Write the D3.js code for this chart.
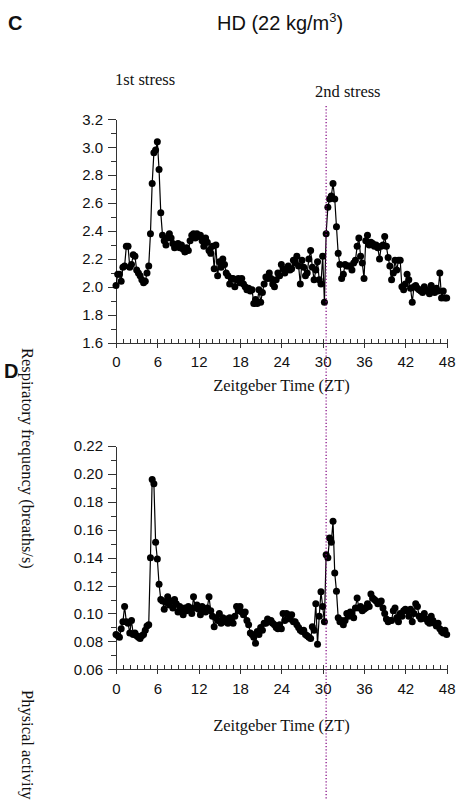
<!DOCTYPE html>
<html>
<head>
<meta charset="utf-8">
<script src="https://cdn.jsdelivr.net/npm/d3@7"></script>
<style>
  body { margin: 0; background: #fff; }
  .axis path, .axis line { stroke: #333; stroke-width: 1; shape-rendering: crispEdges; }
  .axis text { font-family: "Liberation Sans", Arial, sans-serif; font-size: 15px; fill: #111; }
  .serif { font-family: "Liberation Serif", "Times New Roman", serif; fill: #111; }
  .sans { font-family: "Liberation Sans", Arial, sans-serif; fill: #111; }
</style>
</head>
<body>
<svg id="chart" width="462" height="808"></svg>
<script>
// samples every 15 min, ZT 0 .. 48
var respiration = [
  2.01, 2.09, 2.09, 2.04,  2.14, 2.15, 2.29, 2.29,  2.14, 2.16, 2.23, 2.22,  2.12, 2.10, 2.08, 2.05,
  2.03, 2.04, 2.10, 2.15,  2.38, 2.74, 2.96, 2.98,  3.04, 2.84, 2.53, 2.37,  2.33, 2.30, 2.35, 2.38,
  2.35, 2.31, 2.28, 2.30,  2.31, 2.28, 2.30, 2.27,  2.25, 2.28, 2.26, 2.33,  2.37, 2.38, 2.35, 2.38,
  2.36, 2.37, 2.33, 2.29,  2.35, 2.32, 2.26, 2.24,  2.29, 2.13, 2.30, 2.08,  2.18, 2.14, 2.20, 2.16,
  2.10, 2.08, 2.02, 2.06,  2.06, 2.00, 2.05, 2.06,  2.03, 2.06, 2.02, 2.00,  1.98, 1.99, 1.97, 1.98,
  1.88, 1.91, 1.88, 1.98,  1.89, 1.96, 2.02, 2.07,  2.06, 2.10, 2.06, 2.02,  2.00, 2.05, 2.10, 2.08,
  2.16, 2.13, 2.10, 2.12,  2.15, 2.12, 2.13, 2.19,  2.17, 2.22, 2.15, 2.02,  2.19, 2.14, 2.08, 2.10,
  2.20, 2.26, 2.14, 2.05,  2.12, 2.18, 2.05, 2.02,  2.22, 1.89, 2.38, 2.57,  2.63, 2.65, 2.74, 2.63,
  2.43, 2.24, 2.16, 2.06,  2.09, 2.16, 2.15, 2.15,  2.15, 2.12, 2.17, 2.19,  2.29, 2.35, 2.22, 2.17,
  2.06, 2.33, 2.37, 2.30,  2.32, 2.31, 2.29, 2.30,  2.28, 2.20, 2.29, 2.30,  2.36, 2.29, 2.21, 2.15,
  2.05, 2.10, 2.19, 2.12,  2.19, 2.19, 2.00, 1.98,  2.02, 2.09, 2.05, 1.99,  1.89, 2.00, 2.01, 1.99,
  1.98, 1.97, 1.96, 2.00,  1.98, 1.97, 1.95, 2.01,  1.98, 1.96, 1.99, 1.97,  2.10, 1.92, 1.97, 1.92,
  1.92
];

var activity = [
  0.085, 0.084, 0.083, 0.089,  0.094, 0.105, 0.094, 0.093,  0.086, 0.095, 0.085, 0.086,  0.084, 0.083, 0.082, 0.084,
  0.085, 0.088, 0.091, 0.092,  0.140, 0.196, 0.193, 0.151,  0.139, 0.121, 0.110, 0.109,  0.103, 0.108, 0.112, 0.106,
  0.109, 0.104, 0.110, 0.107,  0.101, 0.105, 0.103, 0.099,  0.104, 0.102, 0.105, 0.104,  0.100, 0.112, 0.104, 0.106,
  0.103, 0.099, 0.105, 0.103,  0.101, 0.104, 0.112, 0.102,  0.098, 0.0905, 0.097, 0.095, 0.100, 0.093, 0.097, 0.094,
  0.096, 0.093, 0.097, 0.095,  0.093, 0.098, 0.105, 0.102,  0.105, 0.101, 0.099, 0.101,  0.095, 0.092, 0.086, 0.085,
  0.083, 0.0786, 0.087, 0.085, 0.090, 0.088, 0.093, 0.093,  0.096, 0.094, 0.095, 0.093,  0.092, 0.090, 0.089, 0.092,
  0.089, 0.100, 0.095, 0.100,  0.099, 0.096, 0.099, 0.094,  0.094, 0.092, 0.090, 0.088,  0.087, 0.088, 0.085, 0.084,
  0.083, 0.082, 0.0905, 0.088, 0.107, 0.078, 0.098, 0.1156, 0.105, 0.094, 0.142, 0.140,  0.154, 0.151, 0.166, 0.129,
  0.116, 0.097, 0.094, 0.095,  0.092, 0.095, 0.100, 0.098,  0.101, 0.100, 0.097, 0.104,  0.111, 0.104, 0.105, 0.102,
  0.103, 0.104, 0.107, 0.105,  0.114, 0.111, 0.110, 0.109,  0.107, 0.108, 0.109, 0.104,  0.100, 0.096, 0.094, 0.095,
  0.095, 0.102, 0.104, 0.097,  0.094, 0.100, 0.098, 0.102,  0.103, 0.102, 0.098, 0.103,  0.094, 0.100, 0.107, 0.105,
  0.098, 0.096, 0.097, 0.100,  0.096, 0.094, 0.093, 0.098,  0.095, 0.093, 0.091, 0.093,  0.089, 0.087, 0.086, 0.088,
  0.085
];

var xTicks = [0, 6, 12, 18, 24, 30, 36, 42, 48];
var respTicks = [1.6, 1.8, 2.0, 2.2, 2.4, 2.6, 2.8, 3.0, 3.2];
var actTicks = [0.06, 0.08, 0.10, 0.12, 0.14, 0.16, 0.18, 0.20, 0.22];
var stressTimes = [30.5];
var stressLabels = ["1st stress", "2nd stress"];
var title = "HD (22 kg/m";
var xTitle = "Zeitgeber Time (ZT)";
var respTitle = "Respiratory frequency (breaths/s)";
var actTitle = "Physical activity";

var svg = d3.select("#chart");

var x = d3.scaleLinear().domain([0, 48]).range([116, 446.7]);

function buildPanel(data, ticks, yDomain, yRange, fmt, minorStep) {
  var y = d3.scaleLinear().domain(yDomain).range(yRange);
  var g = svg.append("g");
  var pts = data.map(function(v, i) { return {t: i / 4, v: v}; });

  // minor y ticks
  var minor = [];
  for (var k = 0; k < ticks.length - 1; k++) minor.push(ticks[k] + minorStep);
  g.append("g")
    .attr("class", "axis")
    .attr("transform", "translate(" + x(0) + ",0)")
    .call(d3.axisLeft(y).tickValues(minor).tickSize(5).tickFormat(""))
    .select(".domain").remove();

  g.append("g")
    .attr("class", "axis")
    .attr("transform", "translate(" + x(0) + ",0)")
    .call(d3.axisLeft(y).tickValues(ticks).tickSize(8).tickSizeOuter(0).tickPadding(5).tickFormat(d3.format(fmt)));

  // hourly minor ticks on x
  g.append("g")
    .attr("class", "axis")
    .attr("transform", "translate(0," + y(yDomain[0]) + ")")
    .call(d3.axisBottom(x).tickValues(d3.range(0, 49)).tickSize(-4).tickFormat(""))
    .select(".domain").remove();

  g.append("g")
    .attr("class", "axis")
    .attr("transform", "translate(0," + y(yDomain[0]) + ")")
    .call(d3.axisBottom(x).tickValues(xTicks).tickSize(5).tickSizeOuter(0).tickPadding(9));

  var line = d3.line().x(d => x(d.t)).y(d => y(d.v));
  g.append("path")
    .datum(pts)
    .attr("fill", "none")
    .attr("stroke", "#000")
    .attr("stroke-width", 1.2)
    .attr("d", line);

  g.selectAll(".dot")
    .data(pts)
    .enter().append("circle")
    .attr("class", "dot")
    .attr("cx", d => x(d.t))
    .attr("cy", d => y(d.v))
    .attr("r", 3.5)
    .attr("fill", "#000");

  return y;
}

var yTop = buildPanel(respiration, respTicks, [1.6, 3.2], [342.7, 119.3], ".1f", 0.1);
var yBot = buildPanel(activity, actTicks, [0.06, 0.22], [669.3, 446], ".2f", 0.01);

// stress marker
svg.selectAll(".stress")
  .data(stressTimes)
  .enter().append("line")
  .attr("x1", d => x(d)).attr("x2", d => x(d))
  .attr("y1", 106).attr("y2", 800)
  .attr("stroke", "#800080")
  .attr("stroke-width", 1.2)
  .attr("stroke-dasharray", "1.2,2");

// panel letters and title
svg.append("text").attr("class", "sans").attr("x", 8).attr("y", 30)
  .style("font-size", "20px").style("font-weight", "bold").text("C");
svg.append("text").attr("class", "sans").attr("x", 4).attr("y", 378)
  .style("font-size", "20px").style("font-weight", "bold").text("D");

var t = svg.append("text").attr("class", "sans").attr("x", 217).attr("y", 30)
  .style("font-size", "20px");
t.append("tspan").text(title);
t.append("tspan").attr("dy", -8).style("font-size", "13px").text("3");
t.append("tspan").attr("dy", 8).text(")");

svg.append("text").attr("class", "serif").attr("x", 115).attr("y", 85)
  .style("font-size", "16.5px").text(stressLabels[0]);
svg.append("text").attr("class", "serif").attr("x", 315).attr("y", 97)
  .style("font-size", "16.5px").text(stressLabels[1]);

[391, 731].forEach(function(yy) {
  svg.append("text").attr("class", "serif")
    .attr("x", 281.5).attr("y", yy)
    .attr("text-anchor", "middle")
    .style("font-size", "16.5px")
    .text(xTitle);
});

svg.append("text").attr("class", "serif")
  .attr("transform", "translate(22,348) rotate(90)")
  .style("font-size", "16.5px")
  .text(respTitle);
svg.append("text").attr("class", "serif")
  .attr("transform", "translate(22,690) rotate(90)")
  .style("font-size", "16.5px")
  .text(actTitle);
</script>
</body>
</html>
